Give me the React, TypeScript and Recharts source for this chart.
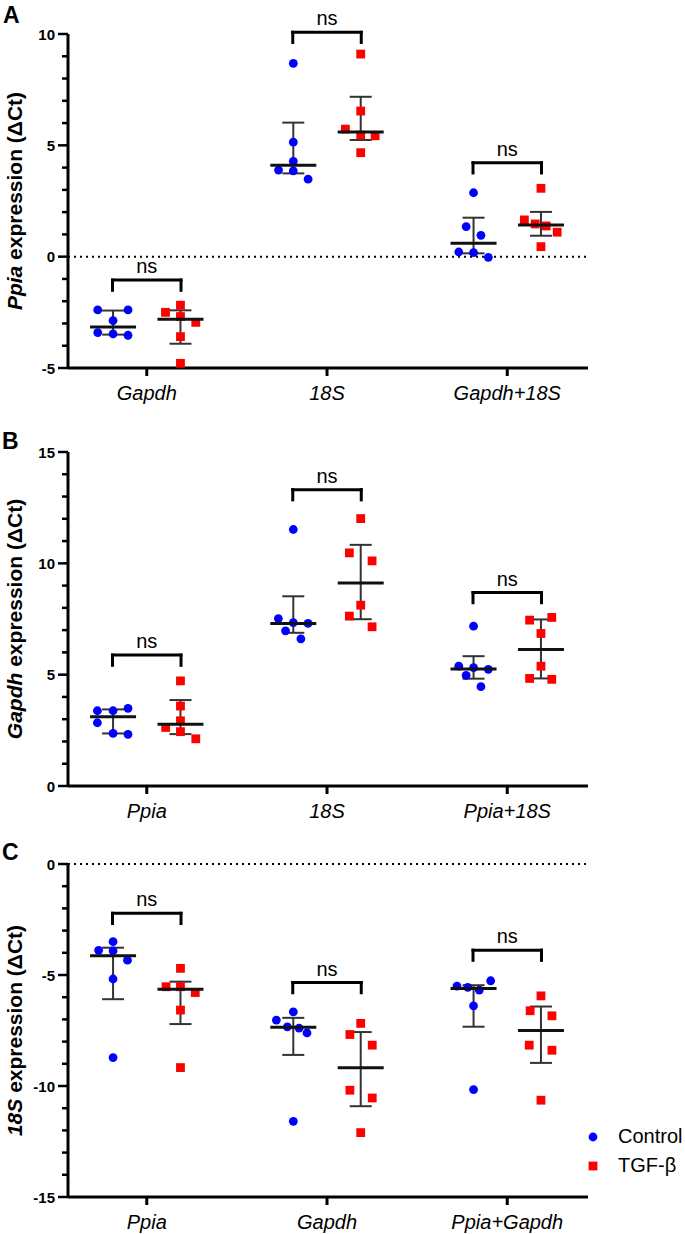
import React from "react";
import { ComposedChart, Scatter, XAxis, YAxis, ReferenceLine, ErrorBar, Legend } from "recharts";

// ---- data (Ct differences per reference gene) ----

const A_CATEGORIES = ["Gapdh", "18S", "Gapdh+18S"];
const A_YTICKS = [-5, -4, -3, -2, -1, 0, 1, 2, 3, 4, 5, 6, 7, 8, 9, 10];
const A_CONTROL = [
  [-2.39, -2.39, -2.87, -3.41, -3.47, -3.53],
  [8.68, 5.14, 4.28, 3.89, 3.85, 3.48],
  [2.87, 1.35, 0.96, 0.21, 0.18, -0.03],
];
const A_CONTROL_DX = [
  [-0.085, 0.083, 0, -0.085, 0, 0.083],
  [0, 0, 0, -0.082, 0, 0.082],
  [0, -0.041, 0.041, -0.082, 0, 0.082],
];
const A_TGF = [
  [-2.18, -2.5, -2.69, -2.95, -3.59, -4.79],
  [9.1, 6.54, 5.73, 5.46, 5.43, 4.67],
  [3.07, 1.65, 1.47, 1.38, 1.1, 0.45],
];
const A_TGF_DX = [
  [0, -0.083, 0, 0.085, 0, 0],
  [0, 0, -0.085, 0, 0.08, 0],
  [0, -0.092, -0.032, 0.029, 0.09, 0],
];
// [median, lower, upper]
const A_CONTROL_SUMMARY = [
  [-3.16, -3.5, -2.42],
  [4.1, 3.74, 6.02],
  [0.6, 0.15, 1.75],
];
const A_TGF_SUMMARY = [
  [-2.81, -3.91, -2.41],
  [5.6, 5.24, 7.18],
  [1.42, 0.94, 2.01],
];
const A_BRACKETS = [-1.05, 10.08, 4.22];

const B_CATEGORIES = ["Ppia", "18S", "Ppia+18S"];
const B_YTICKS = [0, 1, 2, 3, 4, 5, 6, 7, 8, 9, 10, 11, 12, 13, 14, 15];
const B_CONTROL = [
  [3.49, 3.38, 3.38, 2.84, 2.36, 2.32],
  [11.52, 7.52, 7.34, 7.3, 6.97, 6.61],
  [7.18, 5.38, 5.32, 5.24, 4.97, 4.46],
];
const B_CONTROL_DX = [
  [0.083, -0.087, 0, -0.087, 0, 0.083],
  [0, -0.083, 0, 0.082, -0.043, 0.042],
  [0, -0.082, 0, 0.082, -0.041, 0.041],
];
const B_TGF = [
  [4.72, 3.59, 2.93, 2.63, 2.44, 2.12],
  [12.01, 10.47, 10.11, 8.12, 7.63, 7.15],
  [7.57, 7.45, 6.85, 5.38, 4.83, 4.79],
];
const B_TGF_DX = [
  [0, 0, 0, -0.082, 0, 0.085],
  [0, -0.063, 0.063, 0, -0.063, 0.063],
  [0.06, -0.063, 0, 0, -0.063, 0.06],
];
const B_CONTROL_SUMMARY = [
  [3.11, 2.36, 3.44],
  [7.3, 6.88, 8.52],
  [5.26, 4.82, 5.83],
];
const B_TGF_SUMMARY = [
  [2.77, 2.33, 3.86],
  [9.12, 7.49, 10.83],
  [6.13, 4.83, 7.48],
];
const B_BRACKETS = [5.88, 13.31, 8.69];

const C_CATEGORIES = ["Ppia", "Gapdh", "Ppia+Gapdh"];
const C_YTICKS = [-15, -14, -13, -12, -11, -10, -9, -8, -7, -6, -5, -4, -3, -2, -1, 0];
const C_CONTROL = [
  [-3.5, -3.89, -3.91, -4.33, -5.18, -8.72],
  [-6.66, -7.03, -7.34, -7.39, -7.61, -11.59],
  [-5.26, -5.5, -5.56, -5.68, -6.39, -10.16],
];
const C_CONTROL_DX = [
  [0, -0.08, 0, 0.08, 0, 0],
  [0, -0.094, -0.033, 0.032, 0.076, 0],
  [0.095, -0.092, -0.032, 0.032, 0, 0],
];
const C_TGF = [
  [-4.7, -5.53, -5.53, -5.79, -6.58, -9.17],
  [-7.18, -7.68, -8.16, -10.19, -10.54, -12.1],
  [-5.94, -6.61, -6.84, -8.16, -8.39, -10.64],
];
const C_TGF_DX = [
  [0, -0.08, 0, 0.082, 0, 0],
  [0, -0.06, 0.064, -0.06, 0.064, 0],
  [0, -0.06, 0.061, -0.065, 0.061, 0],
];
const C_CONTROL_SUMMARY = [
  [-4.13, -6.09, -3.77],
  [-7.35, -8.6, -6.93],
  [-5.61, -7.33, -5.46],
];
const C_TGF_SUMMARY = [
  [-5.64, -7.21, -5.3],
  [-9.18, -10.91, -7.57],
  [-7.5, -8.96, -6.42],
];
const C_BRACKETS = [-2.22, -5.34, -3.88];

const SERIES_NAMES = ["Control", "TGF-β"];
const COLORS = { control: "#0000FF", tgf: "#FF0000" };

// ---- layout ----
const FONT = '"Liberation Sans", Arial, Helvetica, sans-serif';
const GROUP_OFFSET = 0.187;
const BRACKET_HALF = 0.19;
const BRACKET_LEG = 0.46;
const X_DOMAIN: [number, number] = [0.563, 3.448];

type Pt = { x: number; y: number; err?: number[] };

const toPoints = (vals: number[][], dxs: number[][], side: number): Pt[] =>
  vals.flatMap((grp, i) => grp.map((y, j) => ({ x: i + 1 + side * GROUP_OFFSET + dxs[i][j], y })));

const toSummary = (sum: number[][], side: number): Pt[] =>
  sum.map(([med, lo, hi], i) => ({ x: i + 1 + side * GROUP_OFFSET, y: med, err: [med - lo, hi - med] }));

const circleShape = (p: any) => <circle cx={p.cx} cy={p.cy} r={4.4} fill={COLORS.control} />;
const squareShape = (p: any) => (
  <rect x={p.cx - 4.4} y={p.cy - 4.4} width={8.8} height={8.8} fill={COLORS.tgf} />
);
const medianShape = (p: any) => (
  <line x1={p.cx - 23} x2={p.cx + 23} y1={p.cy} y2={p.cy} stroke="#111" strokeWidth={3} />
);

const YTick = (props: any) => {
  const { x, y, payload } = props;
  const v = payload.value;
  const major = v % 5 === 0;
  return (
    <g>
      <line x1={x - (major ? 10 : 6)} x2={x} y1={y} y2={y} stroke="#000" strokeWidth={2.5} />
      {major && (
        <text x={x - 13} y={y + 5.5} textAnchor="end" fontSize={15} fontWeight="bold" fontFamily={FONT} fill="#000">
          {v}
        </text>
      )}
    </g>
  );
};

const makeXTick = (cats: string[]) => (props: any) => {
  const { x, y, payload } = props;
  return (
    <g>
      <line x1={x} x2={x} y1={y} y2={y + 8} stroke="#000" strokeWidth={3} />
      <text x={x} y={y + 32} textAnchor="middle" fontStyle="italic" fontSize={20} fontFamily={FONT} fill="#000">
        {cats[payload.value - 1]}
      </text>
    </g>
  );
};

const LegendBox = (props: any) => {
  const items = (props.payload ?? []).filter((e: any) => SERIES_NAMES.includes(String(e.value)));
  return (
    <div style={{ fontFamily: FONT, fontSize: 20, color: "#000" }}>
      {items.map((e: any, i: number) => (
        <div key={i} style={{ display: "flex", alignItems: "center", height: 29 }}>
          <svg width={16} height={16}>
            {String(e.value) === "Control" ? (
              <circle cx={8} cy={8} r={4.4} fill={COLORS.control} />
            ) : (
              <rect x={3.6} y={3.6} width={8.8} height={8.8} fill={COLORS.tgf} />
            )}
          </svg>
          <span style={{ marginLeft: 17 }}>{String(e.value)}</span>
        </div>
      ))}
    </div>
  );
};

type PanelProps = {
  top: number;
  plotH: number;
  axisH: number;
  gene: string;
  categories: string[];
  yTicks: number[];
  control: number[][];
  controlDx: number[][];
  tgf: number[][];
  tgfDx: number[][];
  controlSummary: number[][];
  tgfSummary: number[][];
  brackets: number[];
  zeroLine: boolean;
  legend?: boolean;
};

const MARGIN_TOP = 30;

const Panel: React.FC<PanelProps> = (p) => {
  const height = MARGIN_TOP + p.plotH + p.axisH;
  const yMin = p.yTicks[0];
  const yMax = p.yTicks[p.yTicks.length - 1];
  const cy = MARGIN_TOP + p.plotH / 2;
  const axisStyle = { stroke: "#000", strokeWidth: 3 };

  const yLabel = () => (
    <text
      x={22}
      y={cy}
      transform={`rotate(-90, 22, ${cy})`}
      textAnchor="middle"
      fontSize={21}
      fontWeight="bold"
      fontFamily={FONT}
      fill="#000"
    >
      <tspan fontStyle="italic">{p.gene}</tspan> expression (ΔCt)
    </text>
  );

  return (
    <div style={{ position: "absolute", left: 0, top: p.top }}>
      <ComposedChart width={685} height={height} margin={{ top: MARGIN_TOP, right: 97, bottom: 0, left: 0 }}>
        <XAxis
          type="number"
          dataKey="x"
          domain={X_DOMAIN}
          allowDataOverflow
          ticks={[1, 2, 3]}
          interval={0}
          tickSize={0}
          tickMargin={0}
          tickLine={false}
          tick={makeXTick(p.categories)}
          axisLine={axisStyle}
          height={p.axisH}
        />
        <YAxis
          type="number"
          dataKey="y"
          domain={[yMin, yMax]}
          allowDataOverflow
          ticks={p.yTicks}
          interval={0}
          width={68}
          tickSize={0}
          tickMargin={0}
          tickLine={false}
          tick={<YTick />}
          axisLine={axisStyle}
          label={yLabel}
        />
        {p.zeroLine && <ReferenceLine y={0} stroke="#000" strokeWidth={2} strokeDasharray="2 4" />}

        <Scatter name="Control" data={toPoints(p.control, p.controlDx, -1)} shape={circleShape} fill={COLORS.control} isAnimationActive={false} />
        <Scatter name="TGF-β" data={toPoints(p.tgf, p.tgfDx, 1)} shape={squareShape} fill={COLORS.tgf} isAnimationActive={false} />
        <Scatter name="control median" data={toSummary(p.controlSummary, -1)} shape={medianShape} legendType="none" isAnimationActive={false}>
          <ErrorBar dataKey="err" direction="y" width={11} stroke="#333" strokeWidth={2} isAnimationActive={false} />
        </Scatter>
        <Scatter name="tgf median" data={toSummary(p.tgfSummary, 1)} shape={medianShape} legendType="none" isAnimationActive={false}>
          <ErrorBar dataKey="err" direction="y" width={11} stroke="#333" strokeWidth={2} isAnimationActive={false} />
        </Scatter>

        {p.brackets.map((b, i) => {
          const x1 = i + 1 - BRACKET_HALF;
          const x2 = i + 1 + BRACKET_HALF;
          const common = { stroke: "#000", strokeWidth: 3, ifOverflow: "visible" as const, strokeLinecap: "square" as const };
          return (
            <React.Fragment key={i}>
              <ReferenceLine
                {...common}
                segment={[{ x: x1, y: b }, { x: x2, y: b }]}
                label={{ value: "ns", position: "top", offset: 7, fontSize: 20, fill: "#000", fontFamily: FONT }}
              />
              <ReferenceLine {...common} segment={[{ x: x1, y: b }, { x: x1, y: b - BRACKET_LEG }]} />
              <ReferenceLine {...common} segment={[{ x: x2, y: b }, { x: x2, y: b - BRACKET_LEG }]} />
            </React.Fragment>
          );
        })}

        {p.legend && (
          <Legend
            layout="horizontal"
            align="center"
            verticalAlign="middle"
            content={<LegendBox />}
            wrapperStyle={{ left: 585, top: 288, width: 100 }}
          />
        )}
      </ComposedChart>
    </div>
  );
};

const App: React.FC = () => (
  <div style={{ position: "absolute", left: 0, top: 0, width: 685, height: 1234, background: "#fff", overflow: "hidden" }}>
    <Panel
      top={4}
      plotH={334}
      axisH={40}
      gene="Ppia"
      categories={A_CATEGORIES}
      yTicks={A_YTICKS}
      control={A_CONTROL}
      controlDx={A_CONTROL_DX}
      tgf={A_TGF}
      tgfDx={A_TGF_DX}
      controlSummary={A_CONTROL_SUMMARY}
      tgfSummary={A_TGF_SUMMARY}
      brackets={A_BRACKETS}
      zeroLine
    />
    <Panel
      top={422}
      plotH={334}
      axisH={40}
      gene="Gapdh"
      categories={B_CATEGORIES}
      yTicks={B_YTICKS}
      control={B_CONTROL}
      controlDx={B_CONTROL_DX}
      tgf={B_TGF}
      tgfDx={B_TGF_DX}
      controlSummary={B_CONTROL_SUMMARY}
      tgfSummary={B_TGF_SUMMARY}
      brackets={B_BRACKETS}
      zeroLine={false}
    />
    <Panel
      top={834}
      plotH={333}
      axisH={36}
      gene="18S"
      categories={C_CATEGORIES}
      yTicks={C_YTICKS}
      control={C_CONTROL}
      controlDx={C_CONTROL_DX}
      tgf={C_TGF}
      tgfDx={C_TGF_DX}
      controlSummary={C_CONTROL_SUMMARY}
      tgfSummary={C_TGF_SUMMARY}
      brackets={C_BRACKETS}
      zeroLine
      legend
    />
    <svg width={685} height={1234} style={{ position: "absolute", left: 0, top: 0, pointerEvents: "none" }}>
      <text x={3} y={23} fontSize={23} fontWeight="bold" fontFamily={FONT} fill="#000">A</text>
      <text x={2} y={449} fontSize={23} fontWeight="bold" fontFamily={FONT} fill="#000">B</text>
      <text x={2} y={860} fontSize={23} fontWeight="bold" fontFamily={FONT} fill="#000">C</text>
    </svg>
  </div>
);

export default App;
